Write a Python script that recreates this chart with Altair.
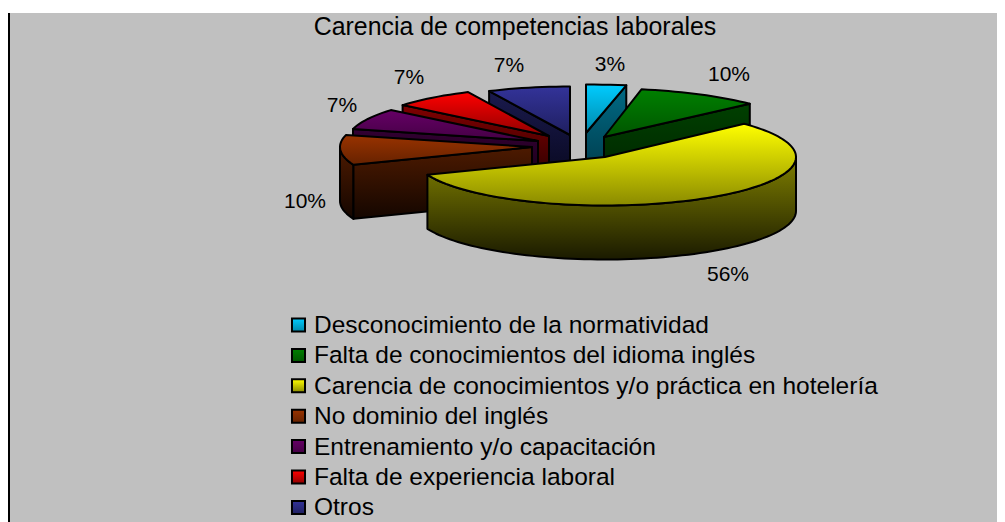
import math
import altair as alt

TITLE = "Carencia de competencias laborales"
categories = [
    "Desconocimiento de la normatividad",
    "Falta de conocimientos del idioma inglés",
    "Carencia de conocimientos y/o práctica en hotelería",
    "No dominio del inglés",
    "Entrenamiento y/o capacitación",
    "Falta de experiencia laboral",
    "Otros",
]
values = [3, 10, 56, 10, 7, 7, 7]
top_hi = ["#00CCFF", "#008000", "#FFFF00", "#993300", "#660066", "#FF0000", "#333399"]
top_lo = ["#0088AA", "#005500", "#8A8A00", "#662200", "#440044", "#8F0000", "#1F1F60"]
wall_hi = ["#006A85", "#004000", "#808000", "#4D1A00", "#330033", "#800000", "#1A1A4D"]
wall_lo = ["#003644", "#002000", "#1A1A00", "#140600", "#0D000D", "#200000", "#06061A"]

# Layout of the drawing, in page pixels
apex = [(586, 133), (604, 137), (605, 157), (532, 147), (538, 141), (549, 136), (570, 135)]
radius_x = [215, 200, 191, 192, 191, 190, 190]
RY, DEPTH = 48.5, 54
draw_order = [6, 0, 5, 4, 3, 1, 2]
label_pos = [(610, 65), (729, 75), (728, 275), (305, 202), (342, 106), (409, 78), (509, 66)]
OX, OY = 8, 8
W, H = 989, 514

projection = dict(type="identity", scale=1, translate=[-OX, -OY])


def grad(a, b):
    return {"gradient": "linear", "x1": 0, "y1": 0, "x2": 0, "y2": 1,
            "stops": [{"offset": 0, "color": a}, {"offset": 1, "color": b}]}


def shape(points, fill, stroke="black", width=2):
    ring = [[float(x), float(y)] for x, y in points] + [[float(points[0][0]), float(points[0][1])]]
    feature = {"type": "Feature", "properties": {},
               "geometry": {"type": "Polygon", "coordinates": [ring]}}
    kw = {"stroke": stroke, "strokeWidth": width} if stroke else {"strokeWidth": 0}
    return (alt.Chart(alt.Data(values=[feature]))
            .mark_geoshape(fill=fill, strokeJoin="round", **kw)
            .project(**projection))


def point(i, deg):
    a = math.radians(deg)
    cx, cy = apex[i]
    return (cx + radius_x[i] * math.sin(a), cy - RY * math.cos(a))


def arc(i, d0, d1):
    n = max(2, int(abs(d1 - d0) / 2))
    return [point(i, d0 + (d1 - d0) * k / n) for k in range(n + 1)]


def drop(points):
    return [(x, y + DEPTH) for x, y in points]


layers = [
    shape([(10, 13), (1005, 13), (1005, 522), (10, 522)], "#C0C0C0", stroke=None),
    shape([(8, 13), (10, 13), (10, 522), (8, 522)], "#000000", stroke=None),
]

total = sum(values)
starts, acc = [], 0
for v in values:
    starts.append(acc / total * 360)
    acc += v

for i in draw_order:
    d0, d1 = starts[i], starts[i] + values[i] / total * 360
    wall = grad(wall_hi[i], wall_lo[i])
    lo, hi = max(d0, 90), min(d1, 270)
    if lo < hi:
        rim = arc(i, lo, hi)
        layers.append(shape(rim + drop(rim)[::-1], wall))
    if i != 2:
        end = d1 if i < 2 else d0
        edge = [apex[i], point(i, end)]
        layers.append(shape(edge + drop(edge)[::-1], wall))
    top = [apex[i]] + arc(i, d0, d1)
    layers.append(shape(top, grad(top_hi[i], top_lo[i])))

title_data = [{"t": TITLE, "px": 515 - OX, "py": 28 - OY}]
layers.append(
    alt.Chart(alt.Data(values=title_data))
    .mark_text(font="Liberation Sans", fontSize=24.9, color="#000000", align="center", baseline="middle")
    .encode(x=alt.X("px:Q", scale=None, axis=None), y=alt.Y("py:Q", scale=None, axis=None), text="t:N")
)

label_data = [{"t": f"{v}%", "px": p[0] - OX, "py": p[1] - OY} for v, p in zip(values, label_pos)]
layers.append(
    alt.Chart(alt.Data(values=label_data))
    .mark_text(font="Liberation Sans", fontSize=21, color="#000000", align="center", baseline="middle")
    .encode(x=alt.X("px:Q", scale=None, axis=None), y=alt.Y("py:Q", scale=None, axis=None), text="t:N")
)

ROW0, ROWSTEP = 325 - OY, 30.4
for r, c in enumerate(categories):
    row = [{"t": c, "px": 298.5 - OX, "tx": 314 - OX, "py": ROW0 + r * ROWSTEP, "ty": ROW0 + r * ROWSTEP + 1}]
    base = alt.Chart(alt.Data(values=row))
    layers.append(
        base.mark_point(shape="square", size=170, filled=True,
                        fill=grad(top_hi[r], top_lo[r]), opacity=1,
                        stroke="black", strokeWidth=2)
        .encode(x=alt.X("px:Q", scale=None, axis=None), y=alt.Y("py:Q", scale=None, axis=None))
    )
    layers.append(
        base.mark_text(font="Liberation Sans", fontSize=24.5, color="#000000", align="left", baseline="middle")
        .encode(x=alt.X("tx:Q", scale=None, axis=None), y=alt.Y("ty:Q", scale=None, axis=None), text="t:N")
    )

chart = (
    alt.layer(*layers)
    .properties(width=W, height=H, padding=0, background="#FFFFFF",
                autosize=alt.AutoSizeParams(type="none"))
    .configure_view(stroke=None)
)
chart.save("out.html", embed_options={"renderer": "svg", "actions": False})
